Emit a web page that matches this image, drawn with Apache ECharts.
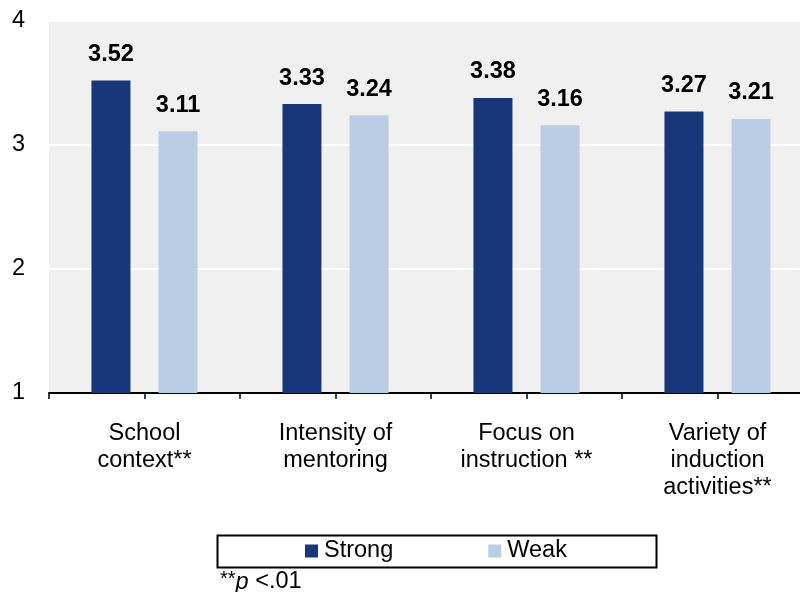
<!DOCTYPE html>
<html>
<head>
<meta charset="utf-8">
<script src="https://cdn.jsdelivr.net/npm/echarts@6/dist/echarts.min.js"></script>
<style>html,body{margin:0;padding:0;background:#fff;}#c{width:800px;height:592px;}</style>
</head>
<body>
<div id="c"></div>
<script>
const categories = ['School\ncontext**', 'Intensity of\nmentoring', 'Focus on\ninstruction **', 'Variety of\ninduction\nactivities**'];
const strongValues = [3.52, 3.33, 3.38, 3.27];
const weakValues = [3.11, 3.24, 3.16, 3.21];
const seriesNames = ['Strong', 'Weak'];
const yTicks = [1, 2, 3, 4];

const FONT = 'Liberation Sans, Arial, sans-serif';
const FS = 23.5;
const chart = echarts.init(document.getElementById('c'), null, {renderer: 'canvas'});
const labelCfg = {
  show: true, position: 'top', distance: 14,
  fontFamily: FONT, fontSize: FS, fontWeight: 'bold', color: '#000',
  formatter: p => p.value.toFixed(2)
};
chart.setOption({
  animation: false,
  backgroundColor: '#fff',
  grid: {
    left: 49, right: -13, top: 21, bottom: 199,
    containLabel: false, outerBoundsMode: 'none',
    show: true, backgroundColor: '#f0f0f0', borderWidth: 0
  },
  legend: {
    data: seriesNames,
    left: 305, top: 539, padding: 0,
    itemWidth: 13, itemHeight: 13, itemGap: 95,
    icon: 'rect',
    textStyle: {fontFamily: FONT, fontSize: FS, color: '#000', padding: [0, 0, 0, 1]}
  },
  xAxis: [{
    type: 'category', data: categories,
    axisLine: {show: true, lineStyle: {color: '#000', width: 2}},
    axisTick: {show: true, length: 6, interval: 0, alignWithLabel: false, lineStyle: {color: '#000', width: 1.5}},
    axisLabel: {interval: 0, margin: 27, fontFamily: FONT, fontSize: FS, lineHeight: 27, color: '#000'},
    splitLine: {show: false}
  }, {
    type: 'category', data: categories, position: 'bottom',
    axisLine: {show: false},
    axisTick: {show: true, length: 6, interval: 0, alignWithLabel: true, lineStyle: {color: '#000', width: 1.5}},
    axisLabel: {show: false},
    splitLine: {show: false}
  }],
  yAxis: {
    type: 'value', min: yTicks[0], max: yTicks[yTicks.length - 1], interval: 1,
    axisLine: {show: false}, axisTick: {show: false},
    axisLabel: {margin: 24, fontFamily: FONT, fontSize: FS, color: '#000'},
    splitLine: {show: true, lineStyle: {color: '#fff', width: 2}}
  },
  series: [{
    name: seriesNames[0], type: 'bar', data: strongValues,
    barWidth: 39, barGap: '72%',
    itemStyle: {color: '#17377a'},
    label: labelCfg
  }, {
    name: seriesNames[1], type: 'bar', data: weakValues,
    barWidth: 39,
    itemStyle: {color: '#b9cde5'},
    label: labelCfg
  }],
  graphic: [{
    type: 'rect', left: 215, top: 533,
    shape: {width: 439, height: 32},
    style: {fill: 'none', stroke: '#000', lineWidth: 2},
    z: 10
  }, {
    type: 'text', left: 220, top: 569,
    style: {
      text: '{a|**}{b|p}{c| <.01}',
      rich: {
        a: {fontFamily: FONT, fontSize: 20, color: '#000', verticalAlign: 'top', padding: [0,0,6,0]},
        b: {fontFamily: FONT, fontSize: FS, fontStyle: 'italic', color: '#000'},
        c: {fontFamily: FONT, fontSize: FS, color: '#000'}
      }
    }
  }]
});
</script>
</body>
</html>
